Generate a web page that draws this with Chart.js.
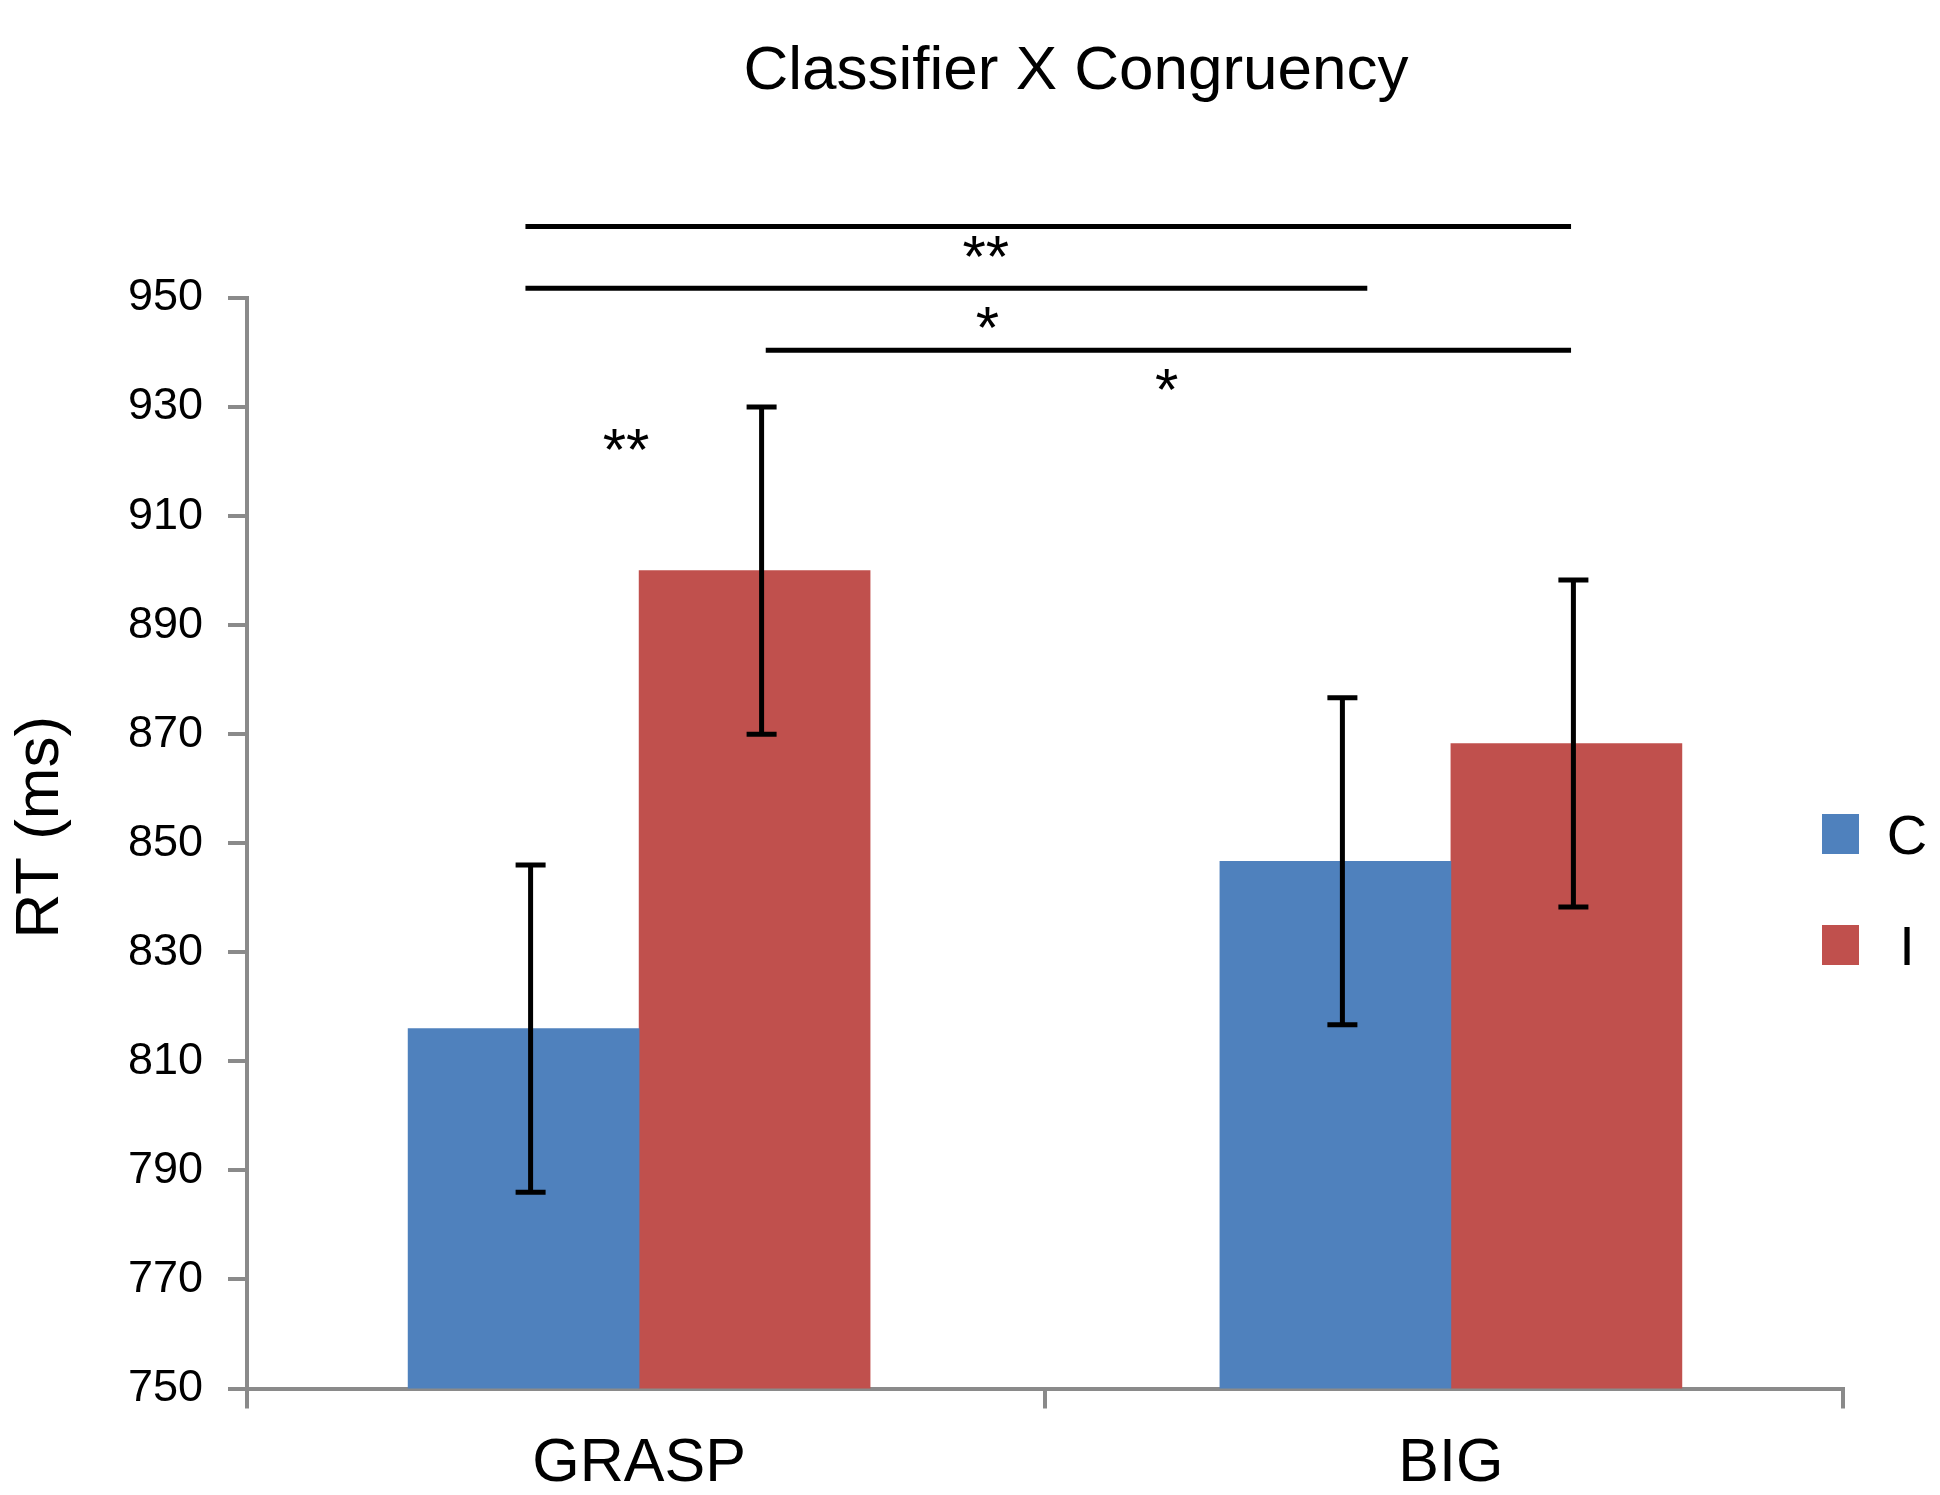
<!DOCTYPE html>
<html>
<head>
<meta charset="utf-8">
<title>Classifier X Congruency</title>
<script src="https://cdn.jsdelivr.net/npm/chart.js@4.4.1/dist/chart.umd.min.js"></script>
<style>
    html, body { margin: 0; padding: 0; background: #fff; overflow: hidden; }
    #wrap { width: 1940px; height: 1495px; position: relative; }
</style>
</head>
<body>
<div id="wrap"><canvas id="rtChart"></canvas></div>
<script>
// Data
const categories = ['GRASP', 'BIG'];
const seriesNames = ['C', 'I'];
const seriesColors = ['#4F81BD', '#C0504D'];
const congruentRT = [816, 846.7];
const incongruentRT = [900, 868.3];
const congruentErr = [30, 30];
const incongruentErr = [30, 30];
const yTicks = [750, 770, 790, 810, 830, 850, 870, 890, 910, 930, 950];
// x axis runs in category-index units; tick marks sit on the group boundaries
const xMin = -0.483;
const xMax = 1.483;
const xBoundaries = [xMin, 0.5, xMax];

// Significance brackets (x in category index units, y in ms)
const sigFrom = [-0.140, -0.140, 0.156];
const sigTo = [1.148, 0.897, 1.148];
const sigLevel = [963.1, 951.8, 940.4];

// Star labels
const starText = ['**', '*', '*', '**'];
const starX = [0.427, 0.429, 0.650, -0.016];
const starY = [959.2, 946.2, 934.8, 923.9];

const FONT = "'Liberation Sans', Arial, Helvetica, sans-serif";
Chart.defaults.font.family = FONT;
Chart.defaults.color = '#000';

const AXIS_GRAY = '#8a8a8a';

function toPoints(values) {
    return categories.map((c, i) => ({ x: i, y: values[i] }));
}

// Error bars on top of each bar
const errorBars = {
    id: 'errorBars',
    afterDatasetsDraw(chart) {
        const ctx = chart.ctx;
        const y = chart.scales.y;
        ctx.save();
        ctx.strokeStyle = '#000';
        chart.data.datasets.forEach((ds, i) => {
            chart.getDatasetMeta(i).data.forEach((bar, j) => {
                const v = ds.data[j].y;
                const top = y.getPixelForValue(v + ds.errors[j]);
                const bottom = y.getPixelForValue(v - ds.errors[j]);
                const x = bar.x + 7;
                ctx.lineWidth = 5;
                ctx.beginPath();
                ctx.moveTo(x, top);
                ctx.lineTo(x, bottom);
                ctx.moveTo(x - 15, top);
                ctx.lineTo(x + 15, top);
                ctx.moveTo(x - 15, bottom);
                ctx.lineTo(x + 15, bottom);
                ctx.stroke();
            });
        });
        ctx.restore();
    }
};

// Brackets, stars, titles and legend
const annotations = {
    id: 'annotations',
    afterDraw(chart) {
        const ctx = chart.ctx;
        const area = chart.chartArea;
        const x = chart.scales.x;
        const y = chart.scales.y;
        ctx.save();

        ctx.strokeStyle = '#000';
        ctx.lineWidth = 5;
        sigLevel.forEach((lvl, k) => {
            const py = y.getPixelForValue(lvl);
            ctx.beginPath();
            ctx.moveTo(x.getPixelForValue(sigFrom[k]), py);
            ctx.lineTo(x.getPixelForValue(sigTo[k]), py);
            ctx.stroke();
        });

        ctx.fillStyle = '#000';
        ctx.textAlign = 'center';
        ctx.textBaseline = 'alphabetic';
        ctx.font = '60px ' + FONT;
        starText.forEach((s, k) => {
            ctx.fillText(s, x.getPixelForValue(starX[k]), y.getPixelForValue(starY[k]) + 0.49 * 60);
        });

        // chart title
        ctx.font = '62px ' + FONT;
        ctx.fillText('Classifier X Congruency', (area.left + area.right) / 2 + 31, 89);

        // y axis title
        ctx.save();
        ctx.translate(41, (area.top + area.bottom) / 2 - 16);
        ctx.rotate(-Math.PI / 2);
        ctx.textBaseline = 'middle';
        ctx.font = '62px ' + FONT;
        ctx.fillText('RT (ms)', 0, 0);
        ctx.restore();

        // legend
        const rows = [834, 945];
        ctx.font = '56px ' + FONT;
        chart.data.datasets.forEach((ds, i) => {
            ctx.fillStyle = ds.backgroundColor;
            ctx.fillRect(1822, rows[i] - 20, 37, 40);
            ctx.fillStyle = '#000';
            ctx.fillText(ds.label, 1907, rows[i] + 0.358 * 56);
        });

        ctx.restore();
    }
};

new Chart(document.getElementById('rtChart'), {
    type: 'bar',
    data: {
        datasets: [
            { label: seriesNames[0], data: toPoints(congruentRT), errors: congruentErr, backgroundColor: seriesColors[0] },
            { label: seriesNames[1], data: toPoints(incongruentRT), errors: incongruentErr, backgroundColor: seriesColors[1] }
        ]
    },
    options: {
        responsive: true,
        maintainAspectRatio: false,
        devicePixelRatio: 1,
        animation: false,
        layout: { padding: { top: 298, right: 97, left: 0, bottom: 0 } },
        datasets: { bar: { barThickness: 231, borderWidth: 0 } },
        plugins: {
            legend: { display: false },
            title: { display: false },
            tooltip: { enabled: false }
        },
        scales: {
            x: {
                type: 'linear',
                min: xMin,
                max: xMax,
                offset: false,
                afterBuildTicks(scale) {
                    scale.ticks = [xMin, 0, 0.5, 1, xMax].map(v => ({ value: v }));
                },
                grid: {
                    offset: false,
                    drawOnChartArea: false,
                    drawTicks: true,
                    tickLength: 20,
                    lineWidth: 4,
                    color: c => (c.tick && !xBoundaries.includes(c.tick.value)) ? 'rgba(0,0,0,0)' : AXIS_GRAY
                },
                border: { display: true, color: AXIS_GRAY, width: 4 },
                ticks: {
                    font: { size: 61 },
                    color: '#000',
                    padding: 19,
                    autoSkip: false,
                    maxRotation: 0,
                    callback: v => Number.isInteger(v) ? categories[v] : ''
                },
                afterFit(scale) { scale.height = 106.5; }
            },
            y: {
                min: 750,
                max: 950,
                afterBuildTicks(scale) { scale.ticks = yTicks.map(v => ({ value: v })); },
                grid: { drawOnChartArea: false, drawTicks: true, tickLength: 19, color: AXIS_GRAY, lineWidth: 4 },
                border: { display: true, color: AXIS_GRAY, width: 4 },
                ticks: { font: { size: 45 }, color: '#000', padding: 25 },
                afterFit(scale) { scale.width = 247; }
            }
        }
    },
    plugins: [errorBars, annotations]
});
</script>
</body>
</html>
